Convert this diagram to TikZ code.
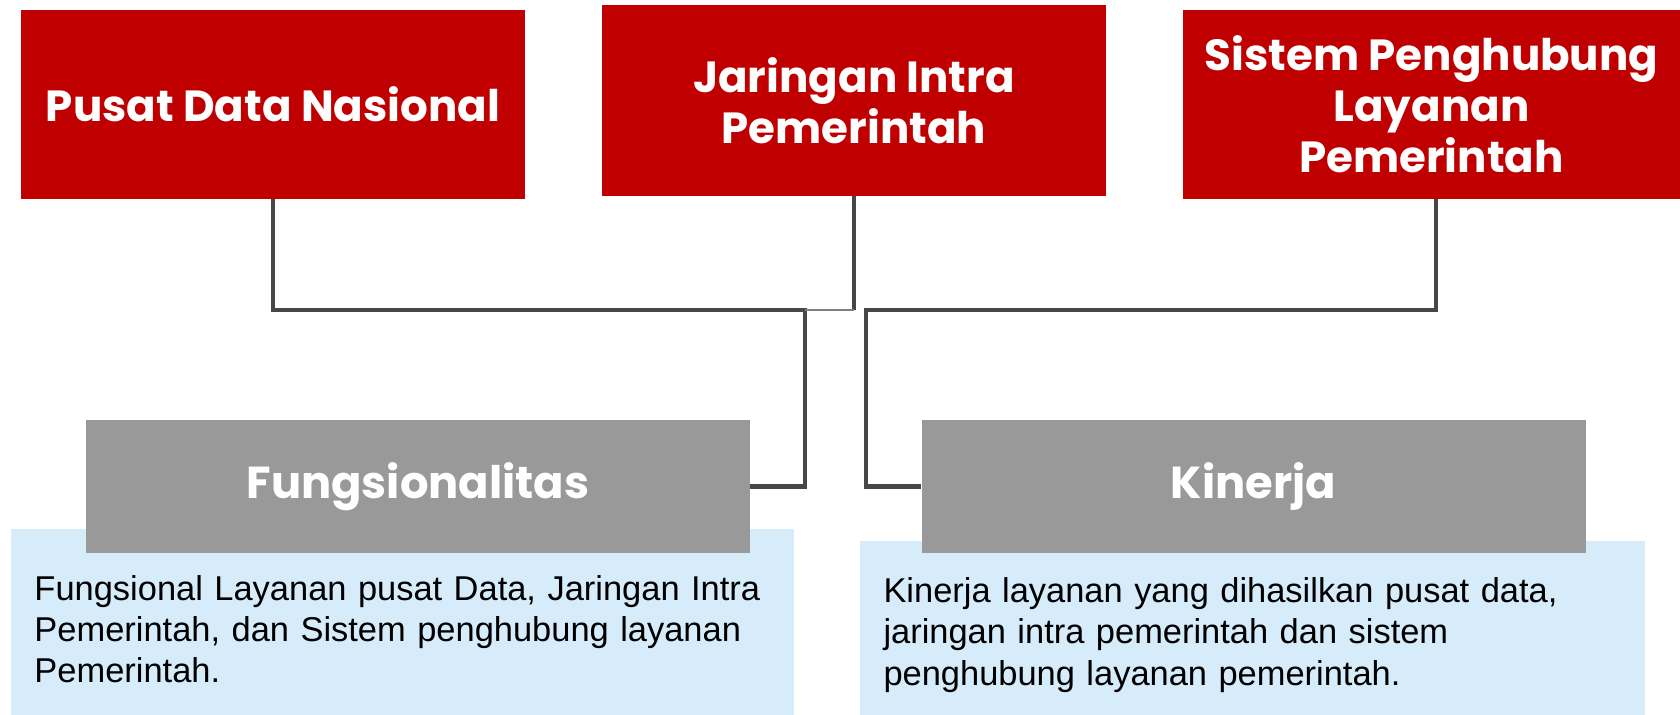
\documentclass[tikz,border=0pt]{standalone}
\usepackage{fontspec}
\setmainfont{Liberation Sans}
\newfontfamily\headfont{Poppins}
\definecolor{boxred}{HTML}{C00000}
\definecolor{boxgray}{HTML}{999999}
\definecolor{boxblue}{HTML}{D7ECFB}
\definecolor{linegray}{HTML}{474747}

\begin{document}
\begin{tikzpicture}[
    redbox/.style={fill=boxred, text=white, align=center, inner sep=0pt,
      font=\headfont\bfseries\fontsize{24.8}{29}\selectfont},
    graybox/.style={fill=boxgray, text=white, minimum width=13.28cm, minimum height=2.66cm,
      font=\headfont\bfseries\fontsize{25.5}{30}\selectfont},
    bluebox/.style={fill=boxblue, align=left, inner xsep=0.47cm,
      font=\fontsize{19.6}{23.4}\selectfont},
    link/.style={draw=linegray, line width=2.3pt}]
  \useasboundingbox (0,0) rectangle (33.6,-14.3);

  % top row
  \node[redbox, minimum width=10.08cm, minimum height=3.78cm] (pdn) at (5.46,-2.09) {Pusat Data Nasional};
  \node[redbox, minimum width=10.08cm, minimum height=3.82cm] (jip) at (17.08,-2.01) {Jaringan Intra\\Pemerintah};
  \node[redbox, minimum width=9.94cm, minimum height=3.78cm] (splp) at (28.63,-2.09) {Sistem Penghubung\\Layanan\\Pemerintah};

  % description boxes (behind the gray titles, bottom runs off the page)
  \node[bluebox, minimum width=15.66cm, minimum height=4.0cm, text width=14.72cm] (fungdesc) at (8.05,-12.58)
    {Fungsional Layanan pusat Data, Jaringan Intra\\Pemerintah, dan Sistem penghubung layanan\\Pemerintah.};
  \node[bluebox, minimum width=15.70cm, minimum height=3.76cm, text width=14.76cm] (kindesc) at (25.05,-12.70)
    {Kinerja layanan yang dihasilkan pusat data,\\jaringan intra pemerintah dan sistem\\penghubung layanan pemerintah.};

  \node[graybox] (fung) at (8.36,-9.73) {Fungsionalitas};
  \node[graybox] (kin) at (25.07,-9.73) {Kinerja};

  % connectors
  \coordinate (bus) at (0,-6.2);
  \coordinate (jL) at (16.10,-6.2);
  \coordinate (jR) at (17.32,-6.2);
  \draw[link] (pdn.south) -- (pdn.south |- bus) -- (jL) |- (fung.east);
  \draw[link] ([xshift=0.09cm]splp.south) -- ([xshift=0.09cm]splp.south |- bus) -- (jR) |- (kin.west);
  \draw[link] (jip.south) -- (jip.south |- bus);
  \draw[draw=linegray!70, line width=0.6pt] (jL) -- (jip.south |- bus);
\end{tikzpicture}
\end{document}
